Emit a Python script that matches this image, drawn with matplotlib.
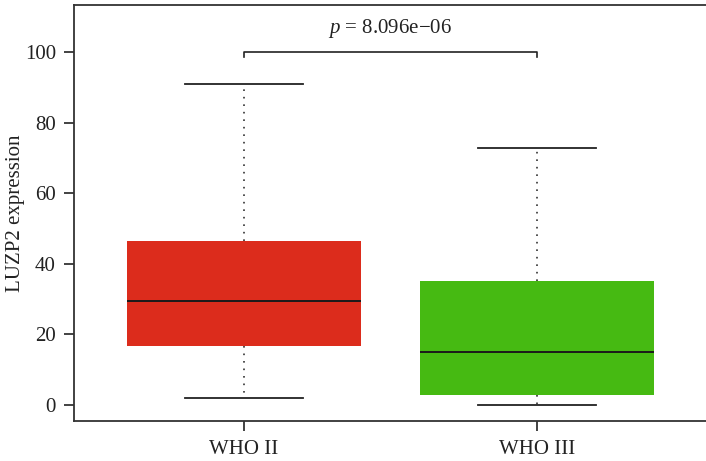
import matplotlib
matplotlib.use("Agg")
import matplotlib.pyplot as plt

plt.rcParams['font.family'] = ['Liberation Serif', 'DejaVu Serif']
plt.rcParams['mathtext.fontset'] = 'custom'
plt.rcParams['mathtext.rm'] = 'Liberation Serif'
plt.rcParams['mathtext.it'] = 'Liberation Serif:italic'

# data
groups = ["WHO II", "WHO III"]
whislo = [2.0, 0.0]
q1 = [16.8, 2.9]
med = [29.5, 15.1]
q3 = [46.5, 35.1]
whishi = [90.8, 72.8]
colors = ["#DC2C1C", "#46BA12"]
p_text = "8.096e\u221206"
bracket_y = 100

stats = []
for i, g in enumerate(groups):
    stats.append(dict(label=g, whislo=whislo[i], q1=q1[i], med=med[i],
                      q3=q3[i], whishi=whishi[i], fliers=[]))

fig = plt.figure(figsize=(7.06, 4.61), dpi=100)
ax = fig.add_axes([74/706, 1 - 421/461, 633/706, 416/461])

bp = ax.bxp(stats, positions=[1, 2], widths=0.8, patch_artist=True,
            showfliers=False,
            boxprops=dict(linewidth=0),
            whiskerprops=dict(linestyle=(0, (1, 3.5)), linewidth=1.2, color="#333333"),
            capprops=dict(linewidth=1.3, color="#222222"),
            medianprops=dict(linewidth=1.4, color="#1a1a1a"))
for patch, c in zip(bp['boxes'], colors):
    patch.set_facecolor(c)
    patch.set_edgecolor(c)
for cap in bp['caps']:
    mid = cap.get_xdata().mean()
    cap.set_xdata([mid - 0.2, mid + 0.2])

# significance bracket
ax.plot([1, 1, 2, 2], [bracket_y - 1.4, bracket_y, bracket_y, bracket_y - 1.4],
        color="#222222", linewidth=1.2, clip_on=False)
ax.text(1.5, bracket_y + 3.4, "$p$ = " + p_text, ha="center", va="bottom",
        fontsize=15, color="#222222")

ax.set_xlim(0.42, 2.58)
ax.set_ylim(-4.53, 113.3)
ax.set_yticks([0, 20, 40, 60, 80, 100])
ax.set_xticks([1, 2])
ax.set_xticklabels(groups)
ax.set_ylabel("LUZP2 expression", fontsize=15, color="#222222", labelpad=0)
ax.tick_params(axis="both", labelsize=15, length=7, width=1.2,
               colors="#222222", pad=6)
ax.tick_params(axis="x", pad=7)
ax.spines['right'].set_visible(False)
for s in ['left', 'top', 'bottom']:
    ax.spines[s].set_linewidth(1.3)
    ax.spines[s].set_color("#333333")

fig.savefig("out.png", dpi=100)
